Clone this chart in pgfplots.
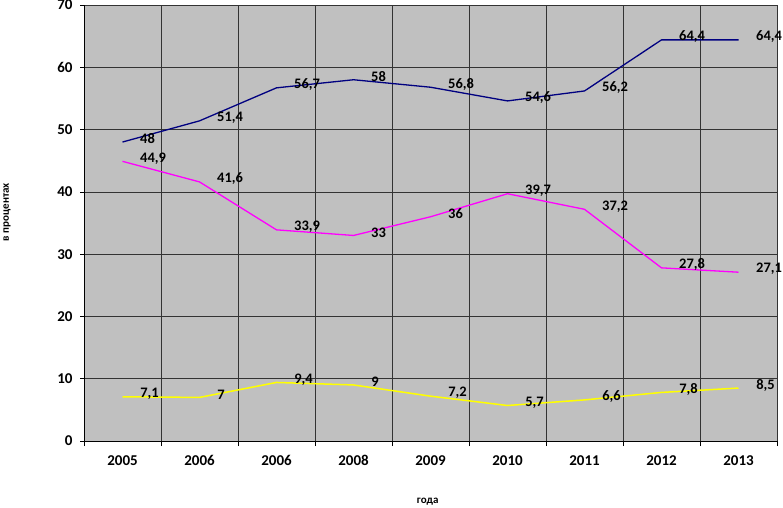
\documentclass[border=0pt]{standalone}
\usepackage{pgfplots}
\pgfplotsset{compat=1.18}
\usepackage{fontspec}
\setmainfont{Carlito}
\definecolor{bgc}{HTML}{C0C0C0}
\definecolor{navyc}{HTML}{000080}
\definecolor{magc}{HTML}{FF00FF}
\definecolor{yelc}{HTML}{FFFF00}
\begin{document}
\begin{tikzpicture}
\begin{axis}[
  at={(84pt,66pt)}, anchor=south west,
  scale only axis, width=693pt, height=436pt,
  clip=false,
  xmin=-0.5, xmax=8.5, ymin=0, ymax=70,
  axis background/.style={fill=bgc},
  axis x line*=bottom, axis y line*=left,
  axis line style={-,black,line width=0.7pt},
  xtick={0,...,8},
  xticklabels={2005,2006,2006,2008,2009,2010,2011,2012,2013},
  minor xtick={-0.5,0.5,...,8.5},
  xminorgrids=true,
  major x tick style={draw=none},
  minor tick length=5pt,
  ytick={0,10,...,70},
  ymajorgrids=true,
  major tick length=4pt,
  tick align=outside,
  tick style={black, line width=0.6pt},
  grid style={black!80, line width=0.6pt},
  minor grid style={black!80, line width=0.6pt},
  /pgf/number format/assume math mode=true,
  tick label style={font=\fontsize{15}{17}\selectfont\bfseries},
  xticklabel style={yshift=-7pt},
  yticklabel style={xshift=-4pt},
  xlabel={года},
  ylabel={в процентах},
  xlabel style={at={(axis description cs:0.496,-0.14)}, anchor=center, font=\fontsize{11}{13}\selectfont\bfseries},
  ylabel style={at={(axis description cs:-0.111,0.525)}, anchor=center, font=\fontsize{11}{13}\selectfont\bfseries},
  nodes near coords,
  point meta=explicit symbolic,
  nodes near coords align={anchor=west},
  every node near coord/.append style={font=\fontsize{14.5}{16}\selectfont\bfseries, text=black, inner sep=0pt, xshift=17pt, yshift=3pt},
]
\addplot[navyc, line width=1.3pt] coordinates {
 (0,48)[48] (1,51.4)[51,4] (2,56.7)[56,7] (3,58)[58] (4,56.8)[56,8]
 (5,54.6)[54,6] (6,56.2)[56,2] (7,64.4)[64,4] (8,64.4)[64,4]};
\addplot[magc, line width=1.3pt] coordinates {
 (0,44.9)[44,9] (1,41.6)[41,6] (2,33.9)[33,9] (3,33)[33] (4,36)[36]
 (5,39.7)[39,7] (6,37.2)[37,2] (7,27.8)[27,8] (8,27.1)[27,1]};
\addplot[yelc, line width=1.5pt] coordinates {
 (0,7.1)[7,1] (1,7)[7] (2,9.4)[9,4] (3,9)[9] (4,7.2)[7,2]
 (5,5.7)[5,7] (6,6.6)[6,6] (7,7.8)[7,8] (8,8.5)[8,5]};
\end{axis}
\pgfresetboundingbox
\useasboundingbox (0,0) rectangle (783pt,507pt);
\end{tikzpicture}
\end{document}
